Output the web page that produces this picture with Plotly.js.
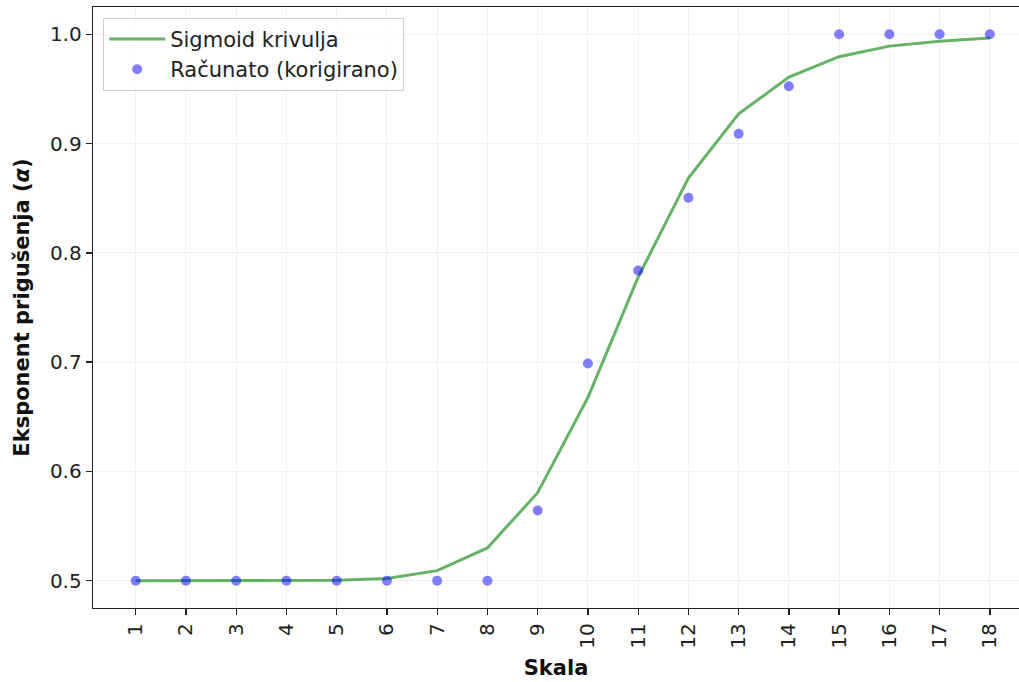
<!DOCTYPE html>
<html>
<head>
<meta charset="utf-8">
<script src="https://cdn.plot.ly/plotly-3.0.1.min.js"></script>
<style>html,body{margin:0;padding:0;background:#fff;}#chart{width:1019px;height:682px;}</style>
</head>
<body>
<div id="chart"></div>
<script>
const scales = [1,2,3,4,5,6,7,8,9,10,11,12,13,14,15,16,17,18];
const tickLabels = ["1","2","3","4","5","6","7","8","9","10","11","12","13","14","15","16","17","18"];
const sigmoidValues = [0.5,0.5,0.5,0.5001,0.5004,0.5020,0.5092,0.5300,0.5805,0.6676,0.7777,0.8685,0.9272,0.9608,0.9795,0.9892,0.9937,0.9966];
const computedValues = [0.5,0.5,0.5,0.5,0.5,0.5,0.5,0.5,0.5642,0.6988,0.7838,0.8505,0.9090,0.9525,1.0,1.0,1.0,1.0];

const font = "DejaVu Sans, sans-serif";
const traces = [
  {x: scales, y: sigmoidValues, type: 'scatter', mode: 'lines', name: 'Sigmoid krivulja',
   line: {color: 'rgba(0,128,0,0.6)', width: 3}},
  {x: scales, y: computedValues, type: 'scatter', mode: 'markers', name: 'Računato (korigirano)',
   marker: {color: 'rgba(0,0,255,0.5)', size: 10, line: {width: 0}}}
];
const layout = {
  width: 1019, height: 682,
  margin: {l: 93, r: 0, t: 7, b: 74},
  paper_bgcolor: '#fff', plot_bgcolor: '#fff',
  font: {family: font, size: 20, color: '#222'},
  showlegend: true,
  legend: {x: 0.011, y: 0.982, xanchor: 'left', yanchor: 'top', bgcolor: 'rgba(255,255,255,0.8)',
           bordercolor: '#cccccc', borderwidth: 1, font: {family: font, size: 21, color: '#222'},
           tracegroupgap: 2, itemwidth: 56},
  xaxis: {
    range: [0.15, 18.58], tickmode: 'array', tickvals: scales, ticktext: tickLabels,
    tickangle: -90, ticks: 'outside', ticklen: 6, tickcolor: '#222', tickwidth: 1.3,
    showline: true, linecolor: '#222', linewidth: 1.3, mirror: true,
    showgrid: true, gridcolor: '#f0f0f0', gridwidth: 1, zeroline: false,
    tickfont: {family: font, size: 20, color: '#222'},
    title: {text: '<b>Skala</b>', font: {family: font, size: 21, color: '#111'}, standoff: 12}
  },
  yaxis: {
    range: [0.475, 1.025], tickvals: [0.5,0.6,0.7,0.8,0.9,1.0], ticktext: ['0.5','0.6','0.7','0.8','0.9','1.0'],
    ticks: 'outside', ticklen: 6, tickcolor: '#222', tickwidth: 1.3,
    showline: true, linecolor: '#222', linewidth: 1.3, mirror: false,
    showgrid: true, gridcolor: '#f0f0f0', gridwidth: 1, zeroline: false,
    tickfont: {family: font, size: 20, color: '#222'},
    title: {text: '<b>Eksponent prigušenja (<i>α</i>)</b>', font: {family: font, size: 21, color: '#111'}, standoff: 14}
  }
};
Plotly.newPlot('chart', traces, layout, {displayModeBar: false, staticPlot: true});
</script>
</body>
</html>
